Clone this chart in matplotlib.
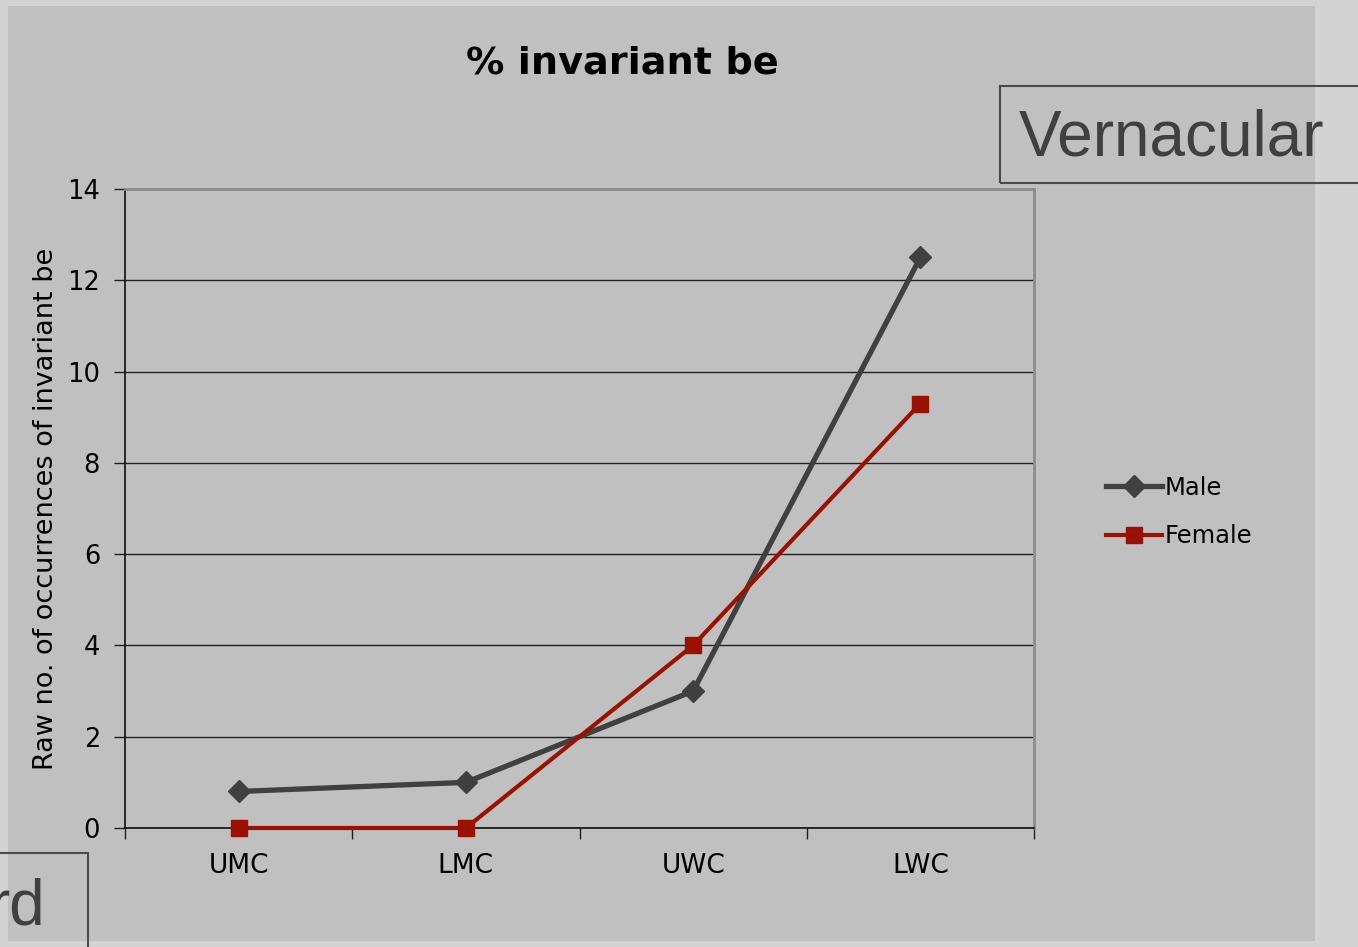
import matplotlib.pyplot as plt
from matplotlib.patches import Rectangle

# data
CLASSES = ["UMC", "LMC", "UWC", "LWC"]
MALE = [0.8, 1.0, 3.0, 12.5]
FEMALE = [0.0, 0.0, 4.0, 9.3]
Y_TICKS = [0, 2, 4, 6, 8, 10, 12, 14]

W, H = 1358, 947


def fx(px):
    return px / W


def fy(py):
    return 1 - py / H


def main():
    fig = plt.figure(figsize=(W / 100, H / 100), dpi=100)
    fig.patch.set_facecolor("#d3d3d3")

    # chart area panel, behind the axes
    fig.patches.append(Rectangle((fx(8), fy(941)), fx(1315) - fx(8), fy(6) - fy(941),
                                 transform=fig.transFigure, facecolor="#c0c0c0",
                                 edgecolor="none", zorder=-1))

    ax = fig.add_axes([fx(125), fy(828), fx(1034) - fx(125), fy(189) - fy(828)])
    ax.set_facecolor("#c0c0c0")

    x = list(range(len(CLASSES)))
    ax.plot(x, MALE, color="#404040", linewidth=3.8, marker="D", markersize=11.5,
            label="Male", zorder=3, clip_on=False)
    ax.plot(x, FEMALE, color="#9b1100", linewidth=3.0, marker="s", markersize=12,
            label="Female", zorder=4, clip_on=False)

    ax.set_xlim(-0.5, 3.5)
    ax.set_ylim(0, 14)
    ax.set_yticks(Y_TICKS)
    ax.set_yticklabels([str(t) for t in Y_TICKS], fontsize=18.5)
    ax.set_xticks(x)
    ax.set_xticklabels(CLASSES, fontsize=19)
    ax.set_xticks([-0.5, 0.5, 1.5, 2.5, 3.5], minor=True)
    ax.tick_params(axis="x", which="major", length=0, pad=18)
    ax.tick_params(axis="x", which="minor", length=8, width=1, color="#202020", direction="out")
    ax.tick_params(axis="y", length=8, width=1, color="#202020", direction="out", pad=10)

    ax.yaxis.grid(True, color="#202020", linewidth=1)
    ax.set_axisbelow(True)
    for s in ["top", "right"]:
        ax.spines[s].set_color("#8c8c8c")
        ax.spines[s].set_linewidth(2)
    ax.spines["left"].set_color("#101010")
    ax.spines["bottom"].set_color("#101010")
    ax.spines["left"].set_linewidth(1.2)
    ax.spines["bottom"].set_linewidth(1.2)

    ax.set_ylabel("Raw no. of occurrences of invariant be", fontsize=19.5, labelpad=6)

    fig.text(fx(622), fy(64), "% invariant be", fontsize=27.5, fontweight="bold",
             ha="center", va="center")

    ax.legend(loc="center left", bbox_to_anchor=(fx(1084), fy(512)), bbox_transform=fig.transFigure,
              frameon=False, fontsize=17.5, handlelength=2.3, handletextpad=0.1,
              labelspacing=1.0)

    # overlapping slide boxes
    fig.patches.append(Rectangle((fx(1000), fy(183)), fx(1400) - fx(1000), fy(86) - fy(183),
                                 transform=fig.transFigure, facecolor="none",
                                 edgecolor="#4a4a4a", linewidth=1.5, zorder=5))
    fig.text(fx(1019), fy(138), "Vernacular", fontsize=46, family="Liberation Sans",
             color="#404040", ha="left", va="center")
    fig.patches.append(Rectangle((fx(-20), fy(960)), fx(88) + 20 / W, fy(853) - fy(960),
                                 transform=fig.transFigure, facecolor="none",
                                 edgecolor="#4a4a4a", linewidth=1.5, zorder=5))
    fig.text(fx(45), fy(907), "rd", fontsize=46, family="Liberation Sans",
             color="#404040", ha="right", va="center")

    fig.savefig("out.png", dpi=100, facecolor=fig.get_facecolor())
    plt.close(fig)


if __name__ == "__main__":
    main()
